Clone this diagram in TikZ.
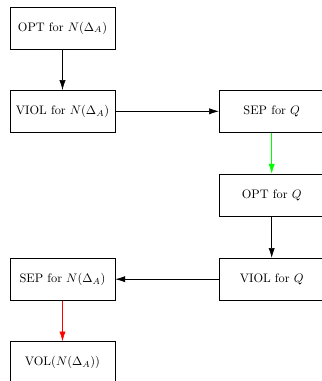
\documentclass[tikz,border=0pt]{standalone}
\usetikzlibrary{arrows.meta}
\begin{document}
\begin{tikzpicture}[x=0.81pt,y=-0.81pt,
  box/.style={draw, line width=0.5pt, minimum width=85pt, minimum height=34pt, inner sep=0pt, anchor=center},
  conn/.style={-{Latex[length=8pt,width=5pt]}, line width=0.5pt}]
\useasboundingbox (0,0) rectangle (322,381);
\node[box] (optN) at (62.5,28) {OPT for $N(\Delta_A)$};
\node[box] (violN) at (62.5,111.3) {VIOL for $N(\Delta_A)$};
\node[box] (sepQ) at (271.7,111.3) {SEP for $Q$};
\node[box] (optQ) at (271.7,195) {OPT for $Q$};
\node[box] (violQ) at (271.7,279.2) {VIOL for $Q$};
\node[box] (sepN) at (62.5,279.2) {SEP for $N(\Delta_A)$};
\node[box] (vol) at (62.5,362.7) {VOL($N(\Delta_A)$)};
\draw[conn] (optN) -- (violN);
\draw[conn] (violN) -- (sepQ);
\draw[conn, green] (sepQ) -- (optQ);
\draw[conn] (optQ) -- (violQ);
\draw[conn] (violQ) -- (sepN);
\draw[conn, red] (sepN) -- (vol);
\end{tikzpicture}
\end{document}
